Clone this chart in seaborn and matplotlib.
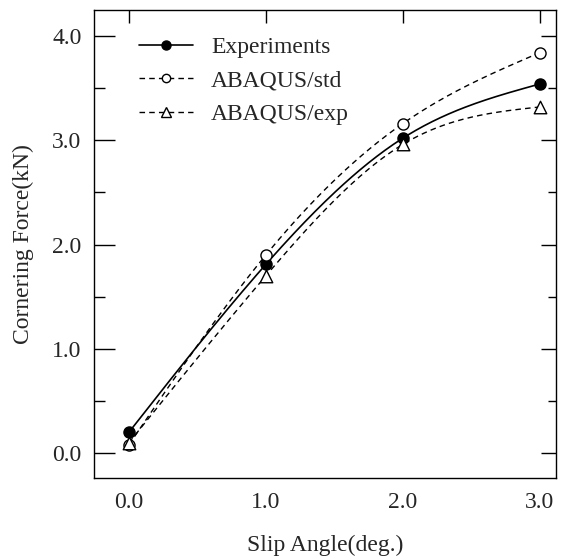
import numpy as np
import pandas as pd
import seaborn as sns
import matplotlib
matplotlib.use("Agg")
import matplotlib.pyplot as plt
from matplotlib.ticker import MultipleLocator

slip_angle = [0.0, 1.0, 2.0, 3.0]
experiments = [0.20, 1.81, 3.02, 3.54]
abaqus_std = [0.08, 1.90, 3.16, 3.84]
abaqus_exp = [0.10, 1.70, 2.96, 3.32]
series_names = ["Experiments", "ABAQUS/std", "ABAQUS/exp"]
x_ticks = [0.0, 1.0, 2.0, 3.0]
y_ticks = [0.0, 1.0, 2.0, 3.0, 4.0]


def natural_spline(x, y, n=200):
    x = np.asarray(x, float); y = np.asarray(y, float)
    m = len(x); h = np.diff(x)
    A = np.zeros((m, m)); b = np.zeros(m)
    A[0, 0] = A[-1, -1] = 1
    for i in range(1, m - 1):
        A[i, i - 1] = h[i - 1]; A[i, i] = 2 * (h[i - 1] + h[i]); A[i, i + 1] = h[i]
        b[i] = 3 * ((y[i + 1] - y[i]) / h[i] - (y[i] - y[i - 1]) / h[i - 1])
    c = np.linalg.solve(A, b)
    xs = np.linspace(x[0], x[-1], n); ys = np.empty_like(xs)
    for k, xv in enumerate(xs):
        i = min(np.searchsorted(x, xv, side="right") - 1, m - 2)
        dx = xv - x[i]
        bi = (y[i + 1] - y[i]) / h[i] - h[i] * (2 * c[i] + c[i + 1]) / 3
        di = (c[i + 1] - c[i]) / (3 * h[i])
        ys[k] = y[i] + bi * dx + c[i] * dx ** 2 + di * dx ** 3
    return xs, ys


sns.set_theme(style="white")
plt.rcParams["font.family"] = ["Liberation Serif", "DejaVu Serif"]

FS = 17

fig = plt.figure(figsize=(5.71, 5.58), dpi=100)
ax = fig.add_axes([0.1646, 0.1434, 0.9737 - 0.1646, 0.982 - 0.1434])

styles = [
    dict(ls="-", lw=1.2, marker="o", mfc="black", ms=8, lms=6.5),
    dict(ls=(0, (4, 3)), lw=1.0, marker="o", mfc="white", ms=8, lms=6),
    dict(ls=(0, (4, 3)), lw=1.0, marker="^", mfc="white", ms=9, lms=7),
]
for name, vals, st in zip(series_names, [experiments, abaqus_std, abaqus_exp], styles):
    xs, ys = natural_spline(slip_angle, vals)
    sns.lineplot(x=xs, y=ys, ax=ax, color="black", lw=st["lw"], linestyle=st["ls"])
    sns.scatterplot(x=slip_angle, y=vals, ax=ax, marker=st["marker"], s=st["ms"] ** 2,
                    facecolor=st["mfc"], edgecolor="black", linewidth=1.0, zorder=5)

handles = [plt.Line2D([], [], color="black", ls=st["ls"], lw=st["lw"], marker=st["marker"],
                      mfc=st["mfc"], mec="black", ms=st["lms"]) for st in styles]
ax.legend(handles, series_names, loc="upper left", frameon=False, fontsize=FS,
          handlelength=2.3, handletextpad=0.75, labelspacing=0.5,
          bbox_to_anchor=(0.077, 0.963), borderaxespad=0.0)

ax.set_xlim(-0.256, 3.12)
ax.set_ylim(-0.24, 4.25)
ax.set_xticks(x_ticks)
ax.set_xticklabels([f"{v:.1f}" for v in x_ticks])
ax.set_yticks(y_ticks)
ax.set_yticklabels([f"{v:.1f}" for v in y_ticks])
ax.yaxis.set_minor_locator(MultipleLocator(0.5))

for s in ax.spines.values():
    s.set_color("black"); s.set_linewidth(1.0)

ax.tick_params(axis="x", which="major", direction="in", length=9, width=1, top=True,
               labelsize=FS, pad=10, color="black")
ax.tick_params(axis="y", which="major", direction="in", length=15, width=1, left=True,
               right=False, labelsize=FS, pad=9, color="black")
ax.tick_params(axis="y", which="minor", direction="in", length=8, width=1, left=True,
               right=False, color="black")

ax2 = ax.twinx()
ax2.set_ylim(ax.get_ylim())
ax2.set_yticks(y_ticks)
ax2.yaxis.set_minor_locator(MultipleLocator(0.5))
ax2.tick_params(axis="y", which="major", direction="in", length=11, width=1, labelright=False,
                right=True, color="black")
ax2.tick_params(axis="y", which="minor", direction="in", length=6, width=1, right=True, color="black")
ax2.grid(False)
for s in ax2.spines.values():
    s.set_visible(False)

ax.set_xlabel("Slip Angle(deg.)", fontsize=FS, labelpad=16)
ax.set_ylabel("Cornering Force(kN)", fontsize=FS, labelpad=13)
ax.grid(False)

fig.savefig("out.png", dpi=100)
